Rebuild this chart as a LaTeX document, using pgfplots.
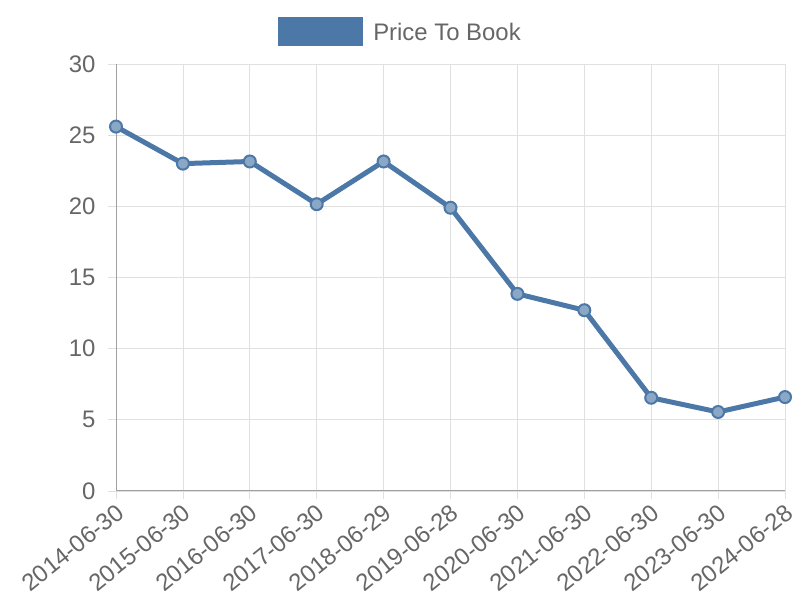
\documentclass[border=0pt]{standalone}
\usepackage{pgfplots}
\pgfplotsset{compat=1.18}
\usepackage{fontspec}
\setmainfont{Liberation Sans}
\definecolor{lineblue}{HTML}{4C78A8}
\definecolor{txt}{HTML}{666666}
\definecolor{gridc}{HTML}{E0E0E0}
\definecolor{axc}{HTML}{A0A0A0}
\begin{document}
\begin{tikzpicture}[x=1bp,y=1bp]
\path (0,0) rectangle (800,600);
\begin{axis}[
  at={(116bp,109bp)}, anchor=south west,
  scale only axis, width=669bp, height=427bp,
  xmin=0, xmax=10, ymin=0, ymax=30,
  xtick={0,...,10},
  xticklabels={2014-06-30,2015-06-30,2016-06-30,2017-06-30,2018-06-29,2019-06-28,2020-06-30,2021-06-30,2022-06-30,2023-06-30,2024-06-28},
  ytick={0,5,...,30},
  grid=major, grid style={gridc, line width=0.8bp},
  axis x line*=bottom, axis y line*=left,
  axis line style={axc, line width=1bp},
  tick align=outside, major tick length=8bp,
  tick style={gridc, line width=0.8bp},
  every tick label/.append style={font=\fontsize{24}{26}\selectfont, text=txt},
  /pgf/number format/assume math mode=true,
  yticklabel style={xshift=-9bp},
  xticklabel style={rotate=39, anchor=north east, inner sep=1bp, xshift=-2bp, yshift=-1bp},
  clip=false,
  legend style={at={(0.5,1)}, anchor=center, xshift=-51bp, yshift=32.5bp, draw=none, fill=none,
    font=\fontsize{24}{27}\selectfont, text=txt, legend cell align=left,
    inner sep=0pt, nodes={inner sep=0pt, text depth=0pt}},
  legend image code/.code={\path[fill=lineblue, draw=none] (0bp,-14.5bp) rectangle (85bp,14.5bp);},
]
\addplot[lineblue, line width=5bp, mark=*, mark size=6bp,
  mark options={draw=lineblue, fill=lineblue!65!white, line width=2bp}]
coordinates {(0,25.6)(1,23.0)(2,23.15)(3,20.15)(4,23.15)(5,19.9)(6,13.85)(7,12.7)(8,6.55)(9,5.55)(10,6.6)};
\addlegendentry{\hspace*{10bp}Price To Book}
\end{axis}
\end{tikzpicture}
\end{document}
